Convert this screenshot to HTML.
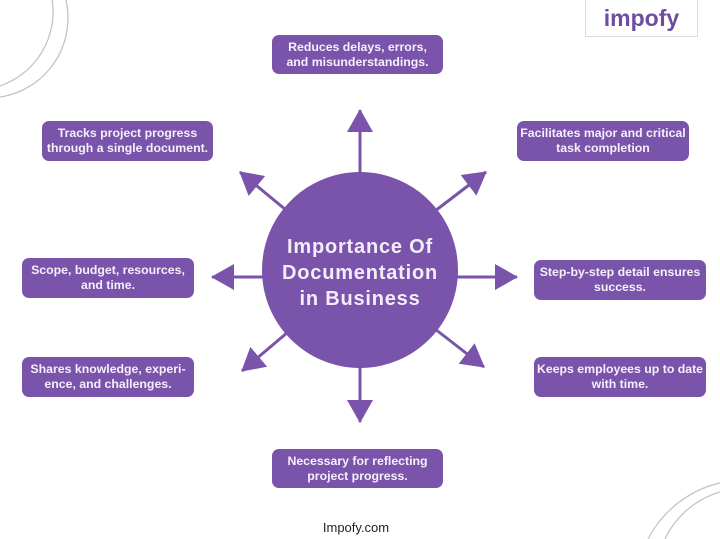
<!DOCTYPE html>
<html>
<head>
<meta charset="utf-8">
<style>
  html, body { margin:0; padding:0; width:720px; height:539px; overflow:hidden; }
  body { background:#ffffff; position:relative; font-family:"Liberation Sans", sans-serif; }
  .box { position:absolute; background:#7a53aa; border-radius:7px; color:#f5f0fb; font-weight:bold; font-size:12.3px; line-height:15px; text-align:center; display:flex; align-items:center; justify-content:center; white-space:nowrap; }
  .logo { position:absolute; left:585px; top:0px; width:111px; height:36px; border:1px solid #dcdcdc; border-top:none; background:#fff; text-align:center; overflow:hidden; }
  .logo span { display:block; font-weight:bold; font-size:23px; color:#6e4c9f; line-height:36px; }
  .footer { position:absolute; left:0; width:712px; top:520px; height:16px; line-height:16px; text-align:center; font-size:13px; color:#222; overflow:hidden; }
  svg { position:absolute; left:0; top:0; overflow:hidden; }
</style>
</head>
<body>
<svg width="720" height="539" viewBox="0 0 720 539">
  <defs>
    <marker id="ah" markerUnits="userSpaceOnUse" markerWidth="24" markerHeight="26" refX="22" refY="13" orient="auto">
      <path d="M0,0 L23,13 L0,26 z" fill="#7a53aa"/>
    </marker>
  </defs>
  <!-- decorative arcs -->
  <g fill="none" stroke="#c4c4c4" stroke-width="1.3">
    <path d="M65.9,0 A80,80 0 0 1 0,97.1"/>
    <path d="M52.1,0 A78,78 0 0 1 0,85.9"/>
    <path d="M648.1,539 A109,109 0 0 1 720,482.9"/>
    <path d="M665,539 A88.6,88.6 0 0 1 720,492"/>
  </g>

  <!-- arrows -->
  <g stroke="#7a53aa" stroke-width="3" marker-end="url(#ah)">
    <line x1="360" y1="175" x2="360" y2="110"/>
    <line x1="360" y1="365" x2="360" y2="422"/>
    <line x1="264" y1="277" x2="212" y2="277"/>
    <line x1="456" y1="277" x2="517" y2="277"/>
    <line x1="286" y1="210" x2="240" y2="172"/>
    <line x1="435" y1="211" x2="486" y2="172"/>
    <line x1="288" y1="332" x2="242" y2="371"/>
    <line x1="435" y1="329" x2="484" y2="367"/>
  </g>

  <!-- center circle -->
  <circle cx="360" cy="270" r="98" fill="#7a53aa"/>
  <g font-family="Liberation Sans, sans-serif" font-weight="bold" font-size="20" fill="#f3edfa" text-anchor="middle" letter-spacing="0.8">
    <text x="360" y="253">Importance Of</text>
    <text x="360" y="279">Documentation</text>
    <text x="360" y="305">in Business</text>
  </g>
</svg>

<div class="logo"><span>impofy</span></div>

<div class="box" style="left:272px;top:35px;width:171px;height:39px;">Reduces delays, errors,<br>and misunderstandings.</div>
<div class="box" style="left:42px;top:121px;width:171px;height:40px;">Tracks project progress<br>through a single document.</div>
<div class="box" style="left:517px;top:121px;width:172px;height:40px;">Facilitates major and critical<br>task completion</div>
<div class="box" style="left:22px;top:258px;width:172px;height:40px;">Scope, budget, resources,<br>and time.</div>
<div class="box" style="left:22px;top:357px;width:172px;height:40px;">Shares knowledge, experi-<br>ence, and challenges.</div>
<div class="box" style="left:534px;top:260px;width:172px;height:40px;">Step-by-step detail ensures<br>success.</div>
<div class="box" style="left:534px;top:357px;width:172px;height:40px;">Keeps employees up to date<br>with time.</div>
<div class="box" style="left:272px;top:449px;width:171px;height:39px;">Necessary for reflecting<br>project progress.</div>

<div class="footer">Impofy.com</div>
</body>
</html>
